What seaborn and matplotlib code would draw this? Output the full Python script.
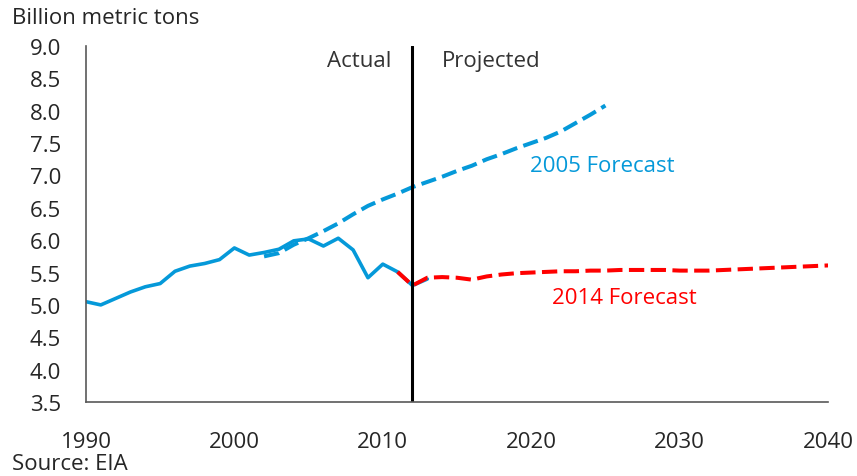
import numpy as np
import pandas as pd
import seaborn as sns
import matplotlib.pyplot as plt

# Data (billion metric tons)
actual_years = list(range(1990, 2014))
actual_vals = [5.05, 5.00, 5.10, 5.20, 5.28, 5.33, 5.52, 5.60, 5.64, 5.70,
               5.88, 5.77, 5.81, 5.86, 5.99, 6.02, 5.91, 6.03, 5.85, 5.42,
               5.63, 5.51, 5.30, 5.40]

f2005_years = list(range(2002, 2026))
f2005_vals = [5.75, 5.80, 5.93, 6.03, 6.14, 6.26, 6.40, 6.53, 6.63, 6.72,
              6.82, 6.90, 6.98, 7.07, 7.15, 7.25, 7.33, 7.42, 7.50, 7.58,
              7.68, 7.81, 7.94, 8.08]

f2014_years = list(range(2011, 2041))
f2014_vals = [5.51, 5.30, 5.42, 5.43, 5.42, 5.39, 5.44, 5.47, 5.49, 5.50,
              5.51, 5.52, 5.52, 5.53, 5.53, 5.54, 5.54, 5.54, 5.54, 5.53,
              5.53, 5.53, 5.54, 5.55, 5.56, 5.57, 5.58, 5.59, 5.60, 5.61]

x_ticks = [1990, 2000, 2010, 2020, 2030, 2040]
y_ticks = [3.5, 4.0, 4.5, 5.0, 5.5, 6.0, 6.5, 7.0, 7.5, 8.0, 8.5, 9.0]

blue = '#0599D9'
red = '#FF0000'
fs = 16

sns.set_style("white")
plt.rcParams['font.family'] = ['Open Sans', 'DejaVu Sans']

fig = plt.figure(figsize=(8.57, 4.77), dpi=100)
ax = fig.add_axes([0.1003, 0.1551, 0.8659, 0.7464])

df_act = pd.DataFrame({'year': actual_years, 'value': actual_vals})
df_05 = pd.DataFrame({'year': f2005_years, 'value': f2005_vals})
df_14 = pd.DataFrame({'year': f2014_years, 'value': f2014_vals})

sns.lineplot(data=df_05, x='year', y='value', ax=ax, color=blue, lw=2.9,
             linestyle=(0, (3.8, 1.6)))
sns.lineplot(data=df_act, x='year', y='value', ax=ax, color=blue, lw=2.6)
sns.lineplot(data=df_14, x='year', y='value', ax=ax, color=red, lw=2.9,
             linestyle=(0, (3.8, 1.6)))

ax.axvline(2012, color='black', lw=2.2)

ax.set_xlim(1990, 2040)
ax.set_ylim(3.5, 9.0)
ax.set_xticks(x_ticks)
ax.set_yticks(y_ticks)
ax.set_yticklabels([f"{v:.1f}" for v in y_ticks])
ax.set_xlabel('')
ax.set_ylabel('')

for s in ['top', 'right']:
    ax.spines[s].set_visible(False)
for s in ['left', 'bottom']:
    ax.spines[s].set_color('#595959')
    ax.spines[s].set_linewidth(1.2)

ax.tick_params(axis='y', direction='out', length=7, width=1.2, color='#595959',
               labelsize=fs, pad=11)
ax.tick_params(axis='x', direction='in', length=7, width=1.2, color='#595959',
               labelsize=fs, pad=21)

ax.text(2010.6, 8.77, 'Actual', ha='right', va='center', fontsize=fs, color='#333333')
ax.text(2013.95, 8.77, 'Projected', ha='left', va='center', fontsize=fs, color='#333333')
ax.text(2024.8, 7.15, '2005 Forecast', ha='center', va='center', fontsize=fs, color=blue)
ax.text(2026.3, 5.12, '2014 Forecast', ha='center', va='center', fontsize=fs, color=red)

fig.text(0.014, 0.962, 'Billion metric tons', ha='left', va='center', fontsize=fs)
fig.text(0.014, 0.026, 'Source: EIA', ha='left', va='center', fontsize=fs)

fig.savefig('out.png', dpi=100)
